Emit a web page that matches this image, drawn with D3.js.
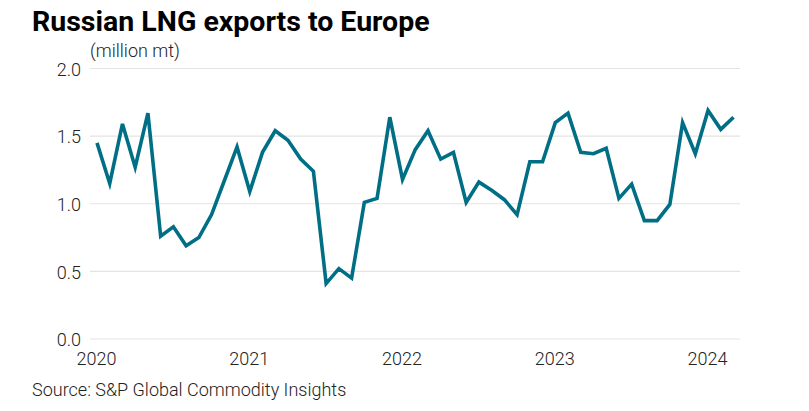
<!DOCTYPE html>
<html>
<head>
<meta charset="utf-8">
<script src="https://cdn.jsdelivr.net/npm/d3@7"></script>
<style>
  html, body { margin: 0; padding: 0; background: #ffffff; }
  svg { display: block; }
  text { font-family: Roboto, "Noto Sans", sans-serif; }
</style>
</head>
<body>
<svg id="chart" width="809" height="411"></svg>
<script>
// ---- Data (monthly, Jan 2020 – Mar 2024), million mt ----
const months = [
  "2020-01","2020-02","2020-03","2020-04","2020-05","2020-06","2020-07","2020-08","2020-09","2020-10","2020-11","2020-12",
  "2021-01","2021-02","2021-03","2021-04","2021-05","2021-06","2021-07","2021-08","2021-09","2021-10","2021-11","2021-12",
  "2022-01","2022-02","2022-03","2022-04","2022-05","2022-06","2022-07","2022-08","2022-09","2022-10","2022-11","2022-12",
  "2023-01","2023-02","2023-03","2023-04","2023-05","2023-06","2023-07","2023-08","2023-09","2023-10","2023-11","2023-12",
  "2024-01","2024-02","2024-03"
];
const exportsMt = [
  1.45, 1.15, 1.59, 1.27, 1.67, 0.76, 0.83, 0.69, 0.75, 0.92, 1.17, 1.42,
  1.09, 1.38, 1.54, 1.47, 1.33, 1.24, 0.41, 0.52, 0.45, 1.01, 1.04, 1.64,
  1.18, 1.40, 1.54, 1.33, 1.38, 1.01, 1.16, 1.10, 1.03, 0.92, 1.31, 1.31,
  1.60, 1.67, 1.38, 1.37, 1.41, 1.04, 1.145, 0.875, 0.875, 0.995, 1.60, 1.37,
  1.69, 1.55, 1.64
];
const yTicks = [0, 0.5, 1.0, 1.5, 2.0];
const xTickLabels = ["2020", "2021", "2022", "2023", "2024"];
const xTickIndex = [0, 12, 24, 36, 48];

const titleText = "Russian LNG exports to Europe";
const unitText = "(million mt)";
const sourceText = "Source: S&P Global Commodity Insights";

// ---- Layout ----
const svg = d3.select("#chart");
const x = d3.scaleLinear().domain([0, months.length - 1]).range([97, 733.5]);
const y = d3.scaleLinear().domain([0, 2]).range([339, 68.5]);
const gridX0 = 90, gridX1 = 740;

// Title
svg.append("text")
  .attr("x", 32).attr("y", 31)
  .attr("font-size", 28.5).attr("font-weight", 700)
  .attr("fill", "#000")
  .text(titleText);

// Unit label
svg.append("text")
  .attr("x", 90).attr("y", 57)
  .attr("font-size", 18).attr("font-weight", 300)
  .attr("fill", "#222")
  .text(unitText);

// Gridlines
svg.append("g").selectAll("line").data(yTicks).join("line")
  .attr("x1", gridX0).attr("x2", gridX1)
  .attr("y1", d => y(d)).attr("y2", d => y(d))
  .attr("stroke", "#e3e3e3").attr("stroke-width", 1.2);

// Y axis labels
const yAxis = d3.axisLeft(y).tickValues(yTicks).tickFormat(d3.format(".1f")).tickSize(0).tickPadding(0);
const gy = svg.append("g").attr("transform", "translate(81,1)").call(yAxis);
gy.select(".domain").remove();
gy.selectAll("text")
  .attr("font-size", 18).attr("font-weight", 300)
  .attr("fill", "#222").attr("font-family", "Roboto, sans-serif");

// X axis labels
const xAxis = d3.axisBottom(x).tickValues(xTickIndex)
  .tickFormat((d, i) => xTickLabels[i]).tickSize(0).tickPadding(0);
const gx = svg.append("g").attr("transform", "translate(-1,352)").call(xAxis);
gx.select(".domain").remove();
gx.selectAll("text")
  .attr("font-size", 18).attr("font-weight", 300)
  .attr("fill", "#222").attr("font-family", "Roboto, sans-serif");

// Line
const line = d3.line().x((d, i) => x(i)).y(d => y(d)).curve(d3.curveLinear);
svg.append("path")
  .datum(exportsMt)
  .attr("d", line)
  .attr("fill", "none")
  .attr("stroke", "#006f86")
  .attr("stroke-width", 3.6)
  .attr("stroke-linejoin", "miter")
  .attr("stroke-linecap", "butt");

// Source
svg.append("text")
  .attr("x", 32).attr("y", 396)
  .attr("font-size", 18).attr("font-weight", 300)
  .attr("fill", "#222")
  .text(sourceText);
</script>
</body>
</html>
